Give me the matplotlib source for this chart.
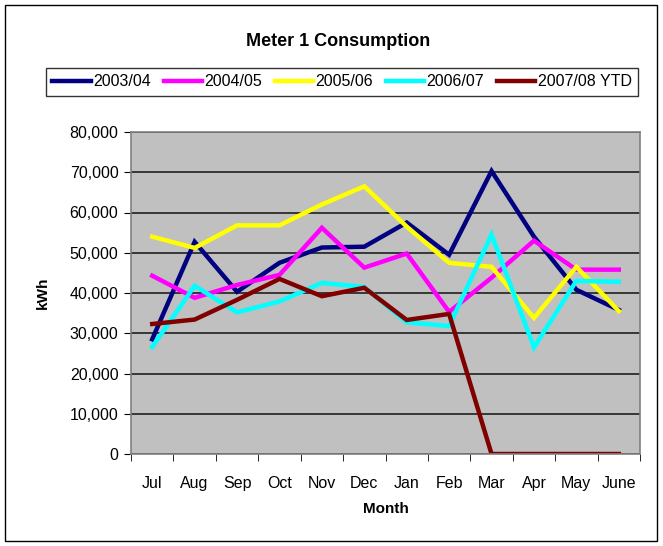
import matplotlib
matplotlib.use("Agg")
import matplotlib.pyplot as plt
from matplotlib.patches import Rectangle
from matplotlib.ticker import FuncFormatter, MultipleLocator

plt.rcParams['font.family'] = ['Liberation Sans', 'DejaVu Sans']

months = ["Jul", "Aug", "Sep", "Oct", "Nov", "Dec", "Jan", "Feb", "Mar", "Apr", "May", "June"]
s2003 = [28500, 52700, 40300, 47500, 51300, 51500, 57500, 49500, 70300, 54000, 40800, 35800]
s2004 = [44300, 38800, 42000, 44500, 56200, 46300, 49800, 35300, 43800, 53000, 45800, 45800]
s2005 = [54000, 51200, 56800, 56800, 62000, 66500, 56500, 47500, 46500, 33800, 46500, 35500]
s2006 = [26600, 41800, 35200, 37900, 42500, 41500, 32700, 31800, 54500, 26500, 43000, 42800]
s2007 = [32300, 33400, 38300, 43500, 39200, 41300, 33300, 34800, 0, 0, 0, 0]

series = [("2003/04", s2003, "#000080"),
          ("2004/05", s2004, "#FF00FF"),
          ("2005/06", s2005, "#FFFF00"),
          ("2006/07", s2006, "#00FFFF"),
          ("2007/08 YTD", s2007, "#800000")]

W, H = 663, 546
fig = plt.figure(figsize=(W / 100, H / 100), dpi=100)
fig.patches.append(Rectangle((5 / W, 5 / H), (657 - 5) / W, (541 - 5) / H,
                             transform=fig.transFigure, fill=False,
                             edgecolor="black", linewidth=1.0))

x0, x1, ytop, ybot = 131, 640, 132, 454
ax = fig.add_axes([x0 / W, (H - ybot) / H, (x1 - x0) / W, (ybot - ytop) / H])
ax.set_facecolor("#C0C0C0")
for sp in ax.spines.values():
    sp.set_color("#808080")
    sp.set_linewidth(1.2)

xs = list(range(len(months)))
for name, vals, col in series:
    ax.plot(xs, vals, color=col, linewidth=3.2, label=name, solid_joinstyle="miter")

ax.set_xlim(-0.5, len(months) - 0.5)
ax.set_ylim(0, 80000)
ax.yaxis.set_major_locator(MultipleLocator(10000))
ax.yaxis.set_major_formatter(FuncFormatter(lambda v, p: f"{int(v):,}"))
ax.grid(axis="y", color="#202020", linewidth=1.2)
ax.set_axisbelow(True)

ax.set_xticks(xs)
ax.set_xticklabels(months)
ax.set_xticks([i - 0.5 for i in range(len(months) + 1)], minor=True)
ax.tick_params(axis="x", which="major", length=0, pad=16, labelsize=11.5)
ax.tick_params(axis="x", which="minor", length=5, direction="out", color="black")
ax.tick_params(axis="y", which="major", length=5, direction="out", color="black",
               labelsize=11.5, pad=4)

ax.set_xlabel("Month", fontweight="bold", fontsize=11, labelpad=8)
ax.set_ylabel("kWh", fontweight="bold", fontsize=11, labelpad=14)

fig.text(338 / W, 1 - 41 / H, "Meter 1 Consumption", ha="center", va="center",
         fontweight="bold", fontsize=13)

leg = fig.legend(loc="center", bbox_to_anchor=(342 / W, 1 - 82 / H), ncol=5,
                 frameon=True, fancybox=False, fontsize=11.5, handlelength=2.4,
                 handletextpad=0.15, columnspacing=0.8, borderpad=0.4)
leg.get_frame().set_edgecolor("black")
leg.get_frame().set_linewidth(1.0)

fig.savefig("out.png", dpi=100)
